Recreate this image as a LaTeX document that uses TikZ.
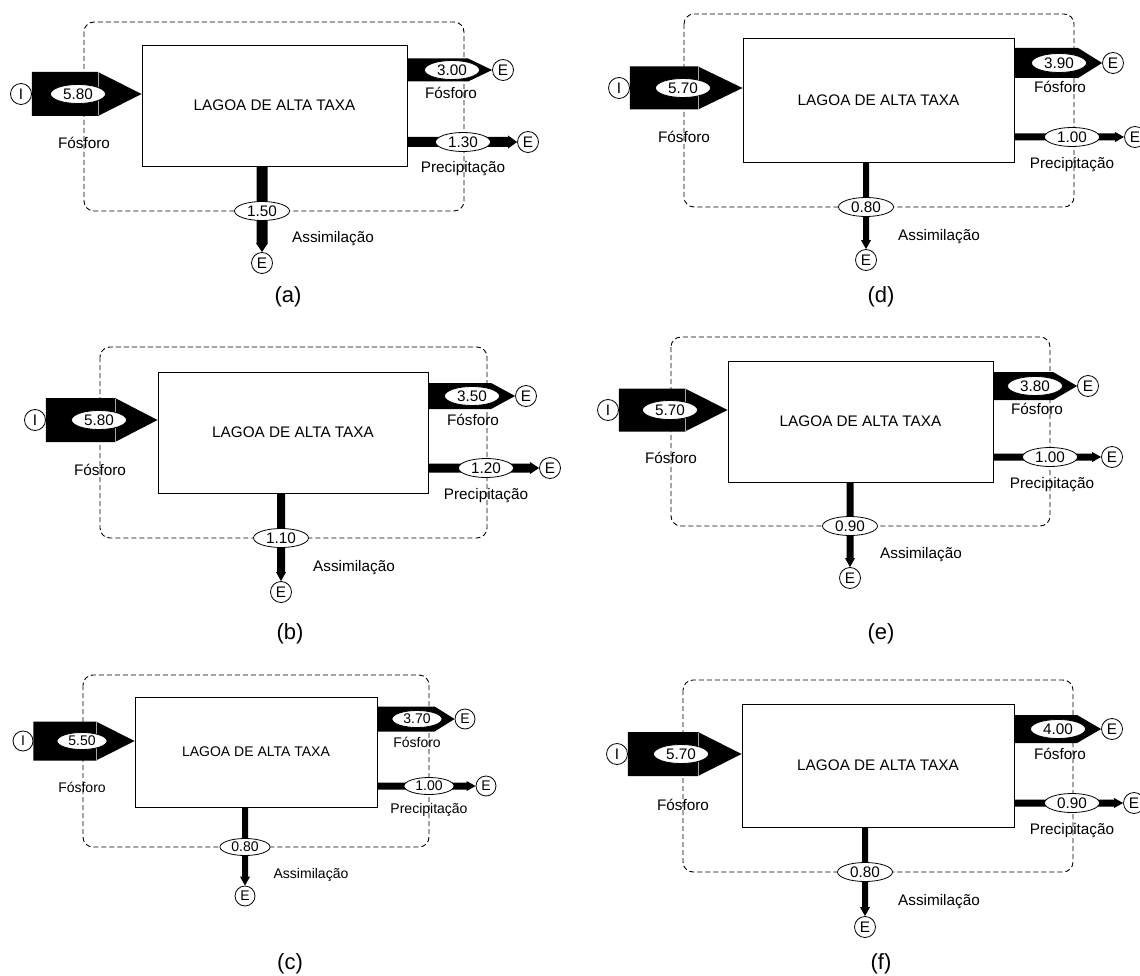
\documentclass[tikz,border=0pt]{standalone}
\usepackage{fontspec}
\setmainfont{Liberation Sans}
\usetikzlibrary{shapes.geometric,calc}
\pgfdeclarelayer{bg}
\pgfsetlayers{bg,main}

\pgfkeys{
 /pn/.cd,
 fs/.store in=\Pfs, ew/.store in=\Pew, eh/.store in=\Peh, cs/.store in=\Pcs, ft/.store in=\Pft,
 dash/.code args={#1,#2,#3,#4}{\def\Pdl{#1}\def\Pdt{#2}\def\Pdr{#3}\def\Pdb{#4}},
 box/.code args={#1,#2,#3,#4}{\def\Pbl{#1}\def\Pbt{#2}\def\Pbr{#3}\def\Pbb{#4}},
 inp/.code args={#1,#2,#3,#4,#5,#6}{\def\Pix{#1}\def\Piy{#2}\def\Pirr{#3}\def\Pih{#4}\def\Piex{#5}\def\Piv{#6}},
 inlab/.code args={#1,#2}{\def\Pilx{#1}\def\Pily{#2}},
 fos/.code args={#1,#2,#3,#4,#5}{\def\PfEx{#1}\def\Pfy{#2}\def\Pfh{#3}\def\Pfex{#4}\def\Pfv{#5}},
 foslab/.code args={#1,#2}{\def\Pflx{#1}\def\Pfly{#2}},
 pre/.code args={#1,#2,#3,#4,#5}{\def\PpEx{#1}\def\Ppy{#2}\def\Pph{#3}\def\Ppex{#4}\def\Ppv{#5}},
 prelab/.code args={#1,#2}{\def\Pplx{#1}\def\Pply{#2}},
 asm/.code args={#1,#2,#3,#4}{\def\Pax{#1}\def\PaEy{#2}\def\Paw{#3}\def\Pav{#4}},
 asmlab/.code args={#1,#2}{\def\Palx{#1}\def\Paly{#2}},
 capt/.code args={#1,#2}{\def\Pcx{#1}\def\Pcy{#2}},
}

\tikzset{
 lagoa/.style={draw, line width=0.9pt, fill=white, inner sep=0pt},
 cbox/.style={draw=black, dash pattern=on 5pt off 3pt, line width=0.9pt, rounded corners=10pt},
 endpt/.style={circle, draw, line width=0.8pt, fill=white, inner sep=0pt},
 val/.style={ellipse, draw, line width=0.8pt, fill=white, inner sep=0pt},
 flow/.style={fill=black},
 lbl/.style={inner sep=0pt, anchor=base},
 subcapt/.style={inner sep=0pt, anchor=base, font=\fontsize{22}{26}\selectfont},
}

\newcommand\drawpanel[2]{%
 \pgfkeys{/pn/.cd, fs=15.3, ew=55, eh=19, cs=21, ft=24, #2}%
 \pgfmathsetmacro\Pbw{\Pbr-\Pbl}%
 \pgfmathsetmacro\Pbh{\Pbb-\Pbt}%
 \pgfmathsetmacro\Pphw{max(\Pph/2+1.5,5)}%
 \pgfmathsetmacro\Pahw{max(\Paw/2+0.5,5)}%
 \begin{scope}[every node/.append style={font=\fontsize{\Pfs}{\Pfs}\selectfont}]
 \begin{pgfonlayer}{bg}
  \draw[cbox] (\Pdl,\Pdt) rectangle (\Pdr,\Pdb);
 \end{pgfonlayer}
 \node[lagoa, minimum width=\Pbw pt, minimum height=\Pbh pt] (#1box)
   at ({(\Pbl+\Pbr)/2},{(\Pbt+\Pbb)/2}) {LAGOA DE ALTA TAXA};
 \node[endpt, minimum size=\Pcs pt] (#1I) at (\Pix,\Piy) {I};
 \node[endpt, minimum size=\Pcs pt] (#1Ef) at (\PfEx,\Pfy) {E};
 \node[endpt, minimum size=\Pcs pt] (#1Ep) at (\PpEx,\Ppy) {E};
 \node[endpt, minimum size=\Pcs pt] (#1Ea) at (\Pax,\PaEy) {E};
 \begin{pgfonlayer}{bg}
  % input flow
  \fill[flow] ($(#1I.east)+(0,{-\Pih/2})$) -- (\Pirr,{\Piy-\Pih/2})
     -- (#1box.west |- #1I.center) -- (\Pirr,{\Piy+\Pih/2})
     -- ($(#1I.east)+(0,{\Pih/2})$) -- cycle;
  \draw[gray!70, line width=0.5pt] (\Pirr,{\Piy-\Pih/2+0.5}) -- (\Pirr,{\Piy+\Pih/2-0.5});
  % output phosphorus
  \fill[flow] ($(#1box.east |- #1Ef.west)+(0,{-\Pfh/2})$) -- ($(#1Ef.west)+({-\Pft},{-\Pfh/2})$)
     -- (#1Ef.west) -- ($(#1Ef.west)+({-\Pft},{\Pfh/2})$)
     -- ($(#1box.east |- #1Ef.west)+(0,{\Pfh/2})$) -- cycle;
  % precipitation
  \fill[flow] ($(#1box.east |- #1Ep.west)+(0,{-\Pph/2})$) -- ($(#1Ep.west)+(-9,{-\Pph/2})$)
     -- ($(#1Ep.west)+(-9,{-\Pphw})$) -- (#1Ep.west) -- ($(#1Ep.west)+(-9,{\Pphw})$)
     -- ($(#1Ep.west)+(-9,{\Pph/2})$) -- ($(#1box.east |- #1Ep.west)+(0,{\Pph/2})$) -- cycle;
  % assimilation
  \fill[flow] ($(#1box.south -| #1Ea.north)+({-\Paw/2},0)$) -- ($(#1Ea.north)+({-\Paw/2},-9)$)
     -- ($(#1Ea.north)+({-\Pahw},-9)$) -- (#1Ea.north) -- ($(#1Ea.north)+({\Pahw},-9)$)
     -- ($(#1Ea.north)+({\Paw/2},-9)$) -- ($(#1box.south -| #1Ea.north)+({\Paw/2},0)$) -- cycle;
 \end{pgfonlayer}
 \node[val, minimum width=\Pew pt, minimum height=\Peh pt] (#1vi) at (\Piex,\Piy) {\Piv};
 \node[val, minimum width=\Pew pt, minimum height=\Peh pt] (#1vf) at (\Pfex,\Pfy) {\Pfv};
 \node[val, minimum width=\Pew pt, minimum height=\Peh pt] (#1vp) at (\Ppex,\Ppy) {\Ppv};
 \node[val, minimum width=\Pew pt, minimum height=\Peh pt] (#1va) at (\Pax,\Pdb) {\Pav};
 \node[lbl] (#1li) at (\Pilx,{\Pily+6}) {Fósforo};
 \node[lbl] (#1lf) at (\Pflx,{\Pfly+6}) {Fósforo};
 \node[lbl] (#1lp) at (\Pplx,{\Pply+6}) {Precipitação};
 \node[lbl] (#1la) at (\Palx,{\Paly+6}) {Assimilação};
 \node[subcapt] (#1cap) at (\Pcx,{\Pcy+7}) {(#1)};
 \end{scope}
}

\begin{document}
\begin{tikzpicture}[x=1pt,y=-1pt]
\begin{pgfonlayer}{bg}
\fill[white] (0,0) rectangle (1140,976);
\end{pgfonlayer}
\useasboundingbox (0,0) rectangle (1140,976);

\drawpanel{a}{dash={84,22,464,211}, box={142,45,407,166}, inp={21,94,98,44,78,5.80},
  inlab={84,143}, fos={503,70,23,452,3.00}, foslab={451,93}, pre={528,142,10,463,1.30},
  prelab={463,167}, asm={262,263,11,1.50}, asmlab={333,237}, capt={288,295}}

\drawpanel{b}{dash={100,347,487,538}, box={158,372,428,493}, inp={35,420,115,44,99,5.80},
  inlab={100,469}, fos={526,396,26,472,3.50}, foslab={473,419}, pre={550,468,9,486,1.20},
  prelab={486,493}, asm={281,592,8,1.10}, asmlab={354,565}, capt={290,632}}

\drawpanel{c}{fs=14, ew=50, eh=17, cs=20, ft=20, dash={83,675,429,847}, box={135,697,377,807},
  inp={23,741,96,39,82,5.50}, inlab={82,786}, fos={465,719,25,417,3.70}, foslab={417,741},
  pre={486,786,7,429,1.00}, prelab={429,807}, asm={245,896,6,0.80}, asmlab={311,872},
  capt={290,962}}

\drawpanel{d}{dash={684,14,1074,207}, box={743,38,1014,162}, inp={619,88,698,43,683,5.70},
  inlab={684,137}, fos={1113,63,30,1059,3.90}, foslab={1060,87}, pre={1135,137,7,1072,1.00},
  prelab={1072,163}, asm={866,260,6,0.80}, asmlab={939,235}, capt={881,295}}

\drawpanel{e}{dash={671,337,1050,526}, box={728,361,993,482}, inp={608,410,685,43,670,5.70},
  inlab={671,457}, fos={1088,386,28,1035,3.80}, foslab={1037,408}, pre={1112,457,7,1050,1.00},
  prelab={1052,482}, asm={850,578,7,0.90}, asmlab={921,552}, capt={881,632}}

\drawpanel{f}{dash={683,680,1073,872}, box={742,704,1014,827}, inp={617,754,698,44,681,5.70},
  inlab={683,804}, fos={1112,729,28,1058,4.00}, foslab={1060,753}, pre={1134,803,7,1072,0.90},
  prelab={1072,828}, asm={865,927,6,0.80}, asmlab={939,899}, capt={881,962}}
\end{tikzpicture}
\end{document}
